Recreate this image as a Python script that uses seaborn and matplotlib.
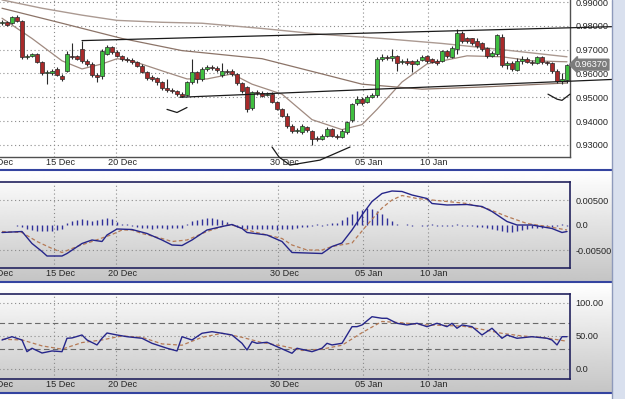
import numpy as np
import matplotlib
matplotlib.use("Agg")
import matplotlib.pyplot as plt
import matplotlib.transforms as mtransforms
from matplotlib import font_manager
from matplotlib.patches import Rectangle
from matplotlib.lines import Line2D
import seaborn as sns

# H4 candles (index 0 = first candle at the left edge)
opens = [
    0.9811, 0.9815, 0.9811, 0.9836, 0.9819, 0.9670, 0.9674, 0.9683, 0.9649, 0.9602,
    0.9602, 0.9619, 0.9589, 0.9611, 0.9674, 0.9674, 0.9704, 0.9653, 0.9640, 0.9594,
    0.9589, 0.9683, 0.9713, 0.9692, 0.9674, 0.9662, 0.9657, 0.9649, 0.9632, 0.9606,
    0.9585, 0.9581, 0.9564, 0.9538, 0.9530, 0.9526, 0.9513, 0.9509, 0.9564, 0.9606,
    0.9577, 0.9619, 0.9628, 0.9623, 0.9594, 0.9611, 0.9611, 0.9598, 0.9560, 0.9543,
    0.9453, 0.9521, 0.9517, 0.9509, 0.9513, 0.9479, 0.9449, 0.9423, 0.9381, 0.9360,
    0.9355, 0.9377, 0.9360, 0.9330, 0.9326, 0.9338, 0.9368, 0.9338, 0.9334, 0.9355,
    0.9406, 0.9475, 0.9492, 0.9479, 0.9500, 0.9509, 0.9662, 0.9670, 0.9666, 0.9674,
    0.9649, 0.9653, 0.9653, 0.9640, 0.9657, 0.9674, 0.9662, 0.9653, 0.9653, 0.9696,
    0.9670, 0.9704, 0.9768, 0.9747, 0.9747, 0.9738, 0.9726, 0.9709, 0.9674, 0.9683,
    0.9755, 0.9636, 0.9645, 0.9615, 0.9653, 0.9662, 0.9649, 0.9645, 0.9670, 0.9649,
    0.9645, 0.9611, 0.9568, 0.9572]
highs = [
    0.9823, 0.9819, 0.9840, 0.9845, 0.9823, 0.9683, 0.9687, 0.9687, 0.9653, 0.9615,
    0.9619, 0.9628, 0.9598, 0.9696, 0.9730, 0.9679, 0.9738, 0.9662, 0.9649, 0.9602,
    0.9704, 0.9721, 0.9717, 0.9700, 0.9679, 0.9670, 0.9666, 0.9653, 0.9640, 0.9611,
    0.9594, 0.9585, 0.9568, 0.9577, 0.9538, 0.9530, 0.9521, 0.9568, 0.9662, 0.9611,
    0.9628, 0.9636, 0.9636, 0.9632, 0.9645, 0.9619, 0.9619, 0.9602, 0.9564, 0.9547,
    0.9526, 0.9530, 0.9526, 0.9521, 0.9521, 0.9483, 0.9453, 0.9432, 0.9389, 0.9372,
    0.9389, 0.9381, 0.9364, 0.9338, 0.9347, 0.9377, 0.9372, 0.9347, 0.9368, 0.9402,
    0.9475, 0.9504, 0.9500, 0.9509, 0.9517, 0.9670, 0.9683, 0.9679, 0.9704, 0.9679,
    0.9662, 0.9666, 0.9657, 0.9662, 0.9679, 0.9679, 0.9666, 0.9662, 0.9700, 0.9700,
    0.9717, 0.9785, 0.9777, 0.9755, 0.9751, 0.9747, 0.9734, 0.9713, 0.9696, 0.9764,
    0.9764, 0.9653, 0.9653, 0.9666, 0.9674, 0.9670, 0.9657, 0.9674, 0.9674, 0.9653,
    0.9649, 0.9619, 0.9602, 0.9640]
lows = [
    0.9802, 0.9798, 0.9806, 0.9815, 0.9662, 0.9662, 0.9670, 0.9645, 0.9594, 0.9555,
    0.9594, 0.9589, 0.9568, 0.9606, 0.9662, 0.9657, 0.9645, 0.9632, 0.9585, 0.9564,
    0.9577, 0.9679, 0.9683, 0.9670, 0.9653, 0.9649, 0.9640, 0.9628, 0.9602, 0.9572,
    0.9568, 0.9551, 0.9530, 0.9521, 0.9517, 0.9504, 0.9500, 0.9504, 0.9555, 0.9560,
    0.9568, 0.9611, 0.9615, 0.9606, 0.9585, 0.9598, 0.9589, 0.9551, 0.9517, 0.9440,
    0.9445, 0.9509, 0.9500, 0.9504, 0.9475, 0.9445, 0.9419, 0.9372, 0.9351, 0.9351,
    0.9347, 0.9355, 0.9300, 0.9317, 0.9321, 0.9334, 0.9334, 0.9326, 0.9330, 0.9347,
    0.9398, 0.9466, 0.9466, 0.9475, 0.9496, 0.9500, 0.9653, 0.9657, 0.9653, 0.9611,
    0.9640, 0.9636, 0.9606, 0.9636, 0.9653, 0.9645, 0.9645, 0.9636, 0.9649, 0.9666,
    0.9666, 0.9683, 0.9730, 0.9726, 0.9721, 0.9709, 0.9696, 0.9666, 0.9670, 0.9674,
    0.9628, 0.9619, 0.9611, 0.9611, 0.9640, 0.9645, 0.9636, 0.9640, 0.9640, 0.9636,
    0.9602, 0.9560, 0.9555, 0.9560]
closes = [
    0.9815, 0.9802, 0.9836, 0.9819, 0.9670, 0.9674, 0.9683, 0.9649, 0.9602, 0.9606,
    0.9611, 0.9594, 0.9577, 0.9683, 0.9670, 0.9662, 0.9653, 0.9640, 0.9594, 0.9585,
    0.9696, 0.9713, 0.9692, 0.9674, 0.9662, 0.9657, 0.9649, 0.9632, 0.9606, 0.9581,
    0.9577, 0.9564, 0.9538, 0.9530, 0.9526, 0.9513, 0.9504, 0.9564, 0.9606, 0.9577,
    0.9619, 0.9628, 0.9623, 0.9615, 0.9611, 0.9606, 0.9598, 0.9560, 0.9526, 0.9449,
    0.9521, 0.9517, 0.9504, 0.9513, 0.9479, 0.9449, 0.9423, 0.9381, 0.9360, 0.9364,
    0.9381, 0.9364, 0.9326, 0.9326, 0.9338, 0.9368, 0.9338, 0.9334, 0.9360, 0.9398,
    0.9470, 0.9492, 0.9475, 0.9500, 0.9509, 0.9662, 0.9670, 0.9666, 0.9674, 0.9645,
    0.9653, 0.9645, 0.9640, 0.9653, 0.9670, 0.9653, 0.9649, 0.9645, 0.9696, 0.9674,
    0.9709, 0.9772, 0.9738, 0.9738, 0.9726, 0.9717, 0.9704, 0.9674, 0.9687, 0.9760,
    0.9636, 0.9645, 0.9619, 0.9653, 0.9662, 0.9649, 0.9645, 0.9670, 0.9649, 0.9645,
    0.9611, 0.9568, 0.9577, 0.9637]

# moving averages, read at a few candle positions
ma_long_x = [0, 8, 16, 23, 32, 40, 52, 64, 76, 88, 100, 113]
ma_long_y = [0.9909, 0.9874, 0.9845, 0.9823, 0.9815, 0.9811, 0.9789, 0.9764, 0.9747, 0.9726, 0.9700, 0.9670]
ma_mid_x = [0, 12, 24, 36, 52, 64, 72, 84, 96, 113]
ma_mid_y = [0.9874, 0.9811, 0.9747, 0.9696, 0.9662, 0.9598, 0.9555, 0.9534, 0.9543, 0.9560]
ma_short_x = [0, 6, 12, 16, 20, 23, 26, 32, 37, 41, 46, 50, 56, 62, 68, 72, 75, 80, 85, 93, 100, 106, 113]
ma_short_y = [0.9832, 0.9747, 0.9653, 0.9619, 0.9640, 0.9662, 0.9653, 0.9611, 0.9577, 0.9577, 0.9598, 0.9555,
              0.9513, 0.9406, 0.9364, 0.9385, 0.9449, 0.9564, 0.9640, 0.9674, 0.9670, 0.9653, 0.9649]

# hand drawn trend lines and arcs
trend_a_x = [16, 124.6]
trend_a_y = [0.9738, 0.9798]
trend_b_x = [35.6, 124.6]
trend_b_y = [0.9500, 0.9577]
arc1_x = [33, 35, 37]
arc1_y = [0.9449, 0.9436, 0.9457]
arc2_x = [54, 55.4, 57.6, 63.6, 69.6]
arc2_y = [0.9291, 0.9249, 0.9215, 0.9236, 0.9291]
arc3_x = [109.2, 111, 112, 113.6]
arc3_y = [0.9513, 0.9492, 0.9487, 0.9513]
last_price = 0.9637

# MACD
macd_x = [0, 4, 6, 8, 9, 12, 13, 16, 18, 20, 21, 23, 26, 29, 32, 34, 36, 38, 41, 44, 46, 48, 49, 53, 56, 58,
          64, 66, 68, 70, 72, 74, 76, 78, 80, 82, 85, 86, 89, 93, 96, 98, 101, 103, 106, 110, 112, 113]
macd_y = [-0.0015, -0.0013, -0.0037, -0.0053, -0.0062, -0.0062, -0.0057, -0.0037, -0.0030, -0.0033, -0.0020,
          -0.0008, -0.0009, -0.0017, -0.0030, -0.0040, -0.0041, -0.0030, -0.0010, -0.0003, 0.0001, -0.0007,
          -0.0015, -0.0020, -0.0033, -0.0055, -0.0057, -0.0043, -0.0036, -0.0010, 0.0020, 0.0047, 0.0063,
          0.0068, 0.0067, 0.0060, 0.0053, 0.0043, 0.0040, 0.0041, 0.0037, 0.0027, 0.0007, 0.0000, 0.0000,
          -0.0007, -0.0015, -0.0013]
signal_x = [0, 4, 7, 10, 12, 15, 18, 22, 24, 26, 28, 32, 34, 37, 41, 45, 46, 49, 53, 56, 58, 61, 64, 66, 70,
            73, 76, 78, 80, 83, 86, 93, 97, 101, 105, 109, 113]
signal_y = [-0.0013, -0.0015, -0.0033, -0.0047, -0.0055, -0.0043, -0.0033, -0.0019, -0.0010, -0.0010, -0.0017,
            -0.0027, -0.0033, -0.0030, -0.0013, 0.0000, 0.0000, -0.0010, -0.0020, -0.0027, -0.0040, -0.0050,
            -0.0050, -0.0043, -0.0036, 0.0000, 0.0034, 0.0050, 0.0059, 0.0053, 0.0050, 0.0043, 0.0033, 0.0017,
            0.0003, -0.0003, -0.0010]
hist = [
    0.0000, 0.0000, 0.0001, -0.0002, -0.0004,
    -0.0008, -0.0010, -0.0012, -0.0012, -0.0012, -0.0011, -0.0010, -0.0008,
    0.0004, 0.0008, 0.0010, 0.0012, 0.0010, 0.0008, 0.0010,
    0.0013, 0.0015, 0.0012, 0.0006,
    0.0003, 0.0002, -0.0002,
    -0.0004, -0.0006, -0.0006, -0.0007, -0.0006, -0.0006, -0.0007, -0.0006, -0.0006, -0.0005,
    0.0003, 0.0008, 0.0010, 0.0012, 0.0014, 0.0014, 0.0012, 0.0010, 0.0006, 0.0003,
    -0.0004, -0.0006, -0.0008, -0.0007, -0.0008, -0.0008, -0.0007, -0.0008, -0.0009, -0.0008, -0.0008, -0.0007, -0.0005,
    -0.0004, -0.0003, -0.0002, 0.0002, -0.0002, 0.0003, 0.0004, 0.0005,
    0.0010, 0.0016, 0.0022, 0.0028,
    0.0030, 0.0034, 0.0032, 0.0028,
    0.0022, 0.0014, 0.0008, 0.0003,
    0.0001, 0.0002, -0.0002, 0.0001, -0.0002, -0.0002, 0.0002, -0.0002, -0.0001, -0.0002, -0.0002, 0.0002, -0.0002,
    -0.0002, -0.0001, -0.0003, -0.0004, -0.0005,
    -0.0008, -0.0010, -0.0012, -0.0014, -0.0014, -0.0012, -0.0010, -0.0008, -0.0006, -0.0005, -0.0006, -0.0004,
    -0.0003, -0.0002, 0.0002, -0.0002]

# RSI
rsi_x = [0, 2, 4, 5, 6, 8, 10, 12, 13, 14, 16, 17, 19, 20, 21, 23, 25, 28, 30, 33, 35, 36, 38, 40, 42, 44, 46,
         48, 49, 50, 51, 53, 55, 58, 59, 62, 64, 65, 66, 68, 70, 71, 72, 74, 76, 77, 79, 81, 83, 85, 87, 89, 90,
         91, 92, 94, 96, 98, 100, 101, 103, 106, 109, 110, 111, 112, 113]
rsi_y = [43.9, 48.9, 43.9, 26.2, 31.4, 24.2, 27.3, 26.2, 46.5, 47.0, 51.5, 43.9, 36.4, 46.5, 54.5, 51.5, 48.9,
         46.5, 38.9, 31.4, 27.3, 48.9, 43.9, 54.1, 56.5, 54.1, 51.5, 38.9, 28.8, 41.4, 38.9, 40.5, 33.8, 23.8,
         31.4, 26.2, 31.4, 38.9, 36.4, 38.9, 64.1, 64.1, 66.7, 79.2, 76.8, 76.8, 69.2, 66.7, 69.2, 64.1, 69.2,
         64.1, 69.2, 61.7, 66.7, 64.1, 51.5, 61.7, 46.5, 51.5, 46.5, 48.9, 46.5, 43.9, 36.4, 48.9, 48.9]
rsi_sig_x = [0, 4, 8, 12, 16, 20, 24, 28, 32, 36, 40, 44, 48, 52, 56, 60, 64, 68, 72, 76, 80, 84, 88, 92, 96,
             100, 104, 108, 113]
rsi_sig_y = [45, 44, 35, 30, 40, 44, 50, 48, 38, 36, 48, 54, 48, 40, 35, 28, 30, 36, 55, 72, 70, 67, 66, 65, 60,
             54, 50, 48, 42]

date_pos = [-2.0, 10.4, 22.8, 55.2, 72.2, 85.2]
date_labels = ["10 Dec", "15 Dec", "20 Dec", "30 Dec", "05 Jan", "10 Jan"]
price_ticks = [0.93, 0.94, 0.95, 0.96, 0.97, 0.98, 0.99]

sns.set_style("white")
installed = {f.name for f in font_manager.fontManager.ttflist}
narrow = 'Liberation Sans Narrow' if 'Liberation Sans Narrow' in installed else 'Liberation Sans'
plt.rcParams['font.family'] = [narrow, 'DejaVu Sans']
FS = 7.7 if narrow == 'Liberation Sans Narrow' else 6.6
plt.rcParams['font.size'] = FS

W, H = 625, 399
fig = plt.figure(figsize=(W / 100, H / 100), dpi=100)
fig.patch.set_facecolor('white')


def box(x0, y0, x1, y1):
    # pixel box (top-left origin) -> figure fraction rect
    return [x0 / W, 1 - y1 / H, (x1 - x0) / W, (y1 - y0) / H]


# gradient backgrounds of the indicator panes
for y0, y1 in [(171, 281), (283, 393)]:
    bg = fig.add_axes(box(0, y0, 612, y1), zorder=-5)
    bg.imshow(np.linspace(1.0, 0.77, 120)[:, None], aspect='auto', cmap='gray', vmin=0, vmax=1)
    bg.axis('off')

for yy in [170, 282, 393]:
    fig.add_artist(Line2D([0, 612 / W], [1 - yy / H] * 2, color='#3444a0', lw=1.5, transform=fig.transFigure))

XLIM = (-4.4, 113.6)
grid_kw = dict(color='#8a8a8a', lw=0.8, linestyle=(0, (1, 2.5)), zorder=1)
label_shift = mtransforms.ScaledTranslation(-8 / 100, 0, fig.dpi_scale_trans)


def date_axis(ax):
    ax.set_xticks(date_pos)
    ax.set_xticklabels(date_labels)
    ax.tick_params(axis='x', length=0, pad=1.0, labelsize=FS)
    for lab in ax.get_xticklabels():
        lab.set_horizontalalignment('left')
        lab.set_transform(lab.get_transform() + label_shift)
    for p in date_pos:
        ax.axvline(p, **grid_kw)


# ---- price pane ----
ax1 = fig.add_axes(box(-20, -2, 570, 157))
ax1.set_facecolor('none')
idx = np.arange(len(closes))
o = np.array(opens)
c = np.array(closes)
up = c >= o
ax1.vlines(idx, lows, highs, color='#2a2a2a', lw=0.8, zorder=3)
ax1.bar(idx, np.maximum(np.abs(c - o), 0.00015), bottom=np.minimum(o, c), width=0.65,
        color=np.where(up, '#3fbf3f', '#a82a2a'), edgecolor='#2a2a2a', linewidth=0.5, zorder=4)

sns.lineplot(x=ma_long_x, y=ma_long_y, ax=ax1, color='#ab9a92', linewidth=1.0, zorder=2)
sns.lineplot(x=ma_mid_x, y=ma_mid_y, ax=ax1, color='#8c7468', linewidth=0.9, zorder=2)
sns.lineplot(x=ma_short_x, y=ma_short_y, ax=ax1, color='#a08a80', linewidth=0.9, zorder=2)

for xs, ys in [(trend_a_x, trend_a_y), (trend_b_x, trend_b_y), (arc1_x, arc1_y), (arc2_x, arc2_y),
               (arc3_x, arc3_y)]:
    ax1.plot(xs, ys, color='#1a1a1a', lw=0.9, clip_on=False, zorder=5)

ax1.set_xlim(*XLIM)
ax1.set_ylim(0.9249, 0.9917)
ax1.set_yticks(price_ticks)
ax1.set_yticklabels([f"{t:.5f}" for t in price_ticks])
ax1.yaxis.tick_right()
ax1.tick_params(axis='y', length=0, pad=4, labelsize=FS)
for t in price_ticks:
    ax1.axhline(t, **grid_kw)
date_axis(ax1)
for s in ['top', 'left']:
    ax1.spines[s].set_visible(False)
for s in ['right', 'bottom']:
    ax1.spines[s].set_color('#505050')
    ax1.spines[s].set_linewidth(1.0)
ax1.text(1.0, last_price, "0.96370",
         transform=mtransforms.blended_transform_factory(ax1.transAxes, ax1.transData)
         + mtransforms.ScaledTranslation(5 / 100, 0, fig.dpi_scale_trans),
         ha='left', va='center', color='white', fontsize=FS,
         bbox=dict(boxstyle='larrow,pad=0.1', fc='#7c7c7c', ec='#7c7c7c'), zorder=6)

# ---- MACD pane ----
ax2 = fig.add_axes(box(-20, 182, 570, 268))
ax2.set_facecolor('none')
ax2.vlines(idx, 0, hist, color='#30309a', lw=1.0, zorder=2)
sns.lineplot(x=signal_x, y=signal_y, ax=ax2, color='#b57a55', linewidth=0.9, linestyle=(0, (3, 2)), zorder=3)
sns.lineplot(x=macd_x, y=macd_y, ax=ax2, color='#26268a', linewidth=1.0, zorder=4)
ax2.set_xlim(*XLIM)
ax2.set_ylim(-0.0086, 0.0086)
ax2.set_yticks([0.005, 0.0, -0.005])
ax2.set_yticklabels(["0.00500", "0.0", "-0.00500"])
ax2.yaxis.tick_right()
ax2.tick_params(axis='y', length=0, pad=4, labelsize=FS)
for t in [0.005, -0.005]:
    ax2.axhline(t, **grid_kw)
date_axis(ax2)

# ---- RSI pane ----
ax3 = fig.add_axes(box(-20, 294, 570, 379))
ax3.set_facecolor('none')
sns.lineplot(x=rsi_sig_x, y=rsi_sig_y, ax=ax3, color='#b57a55', linewidth=0.9, linestyle=(0, (3, 2)), zorder=3)
sns.lineplot(x=rsi_x, y=rsi_y, ax=ax3, color='#26268a', linewidth=1.0, zorder=4)
ax3.set_xlim(*XLIM)
ax3.set_ylim(-15.2, 113.6)
ax3.set_yticks([100, 50, 0])
ax3.set_yticklabels(["100.00", "50.00", "0.0"])
ax3.yaxis.tick_right()
ax3.tick_params(axis='y', length=0, pad=4, labelsize=FS)
for t in [100, 50, 0]:
    ax3.axhline(t, **grid_kw)
for t in [70, 30]:
    ax3.axhline(t, color='#6a6a6a', lw=0.8, linestyle=(0, (5, 3)), zorder=1)
date_axis(ax3)

for ax in (ax2, ax3):
    for s in ax.spines.values():
        s.set_color('#23235e')
        s.set_linewidth(1.2)
for ax in (ax1, ax2, ax3):
    ax.set_xlabel('')
    ax.set_ylabel('')

# right hand strip
fig.add_artist(Rectangle((612 / W, 0), 13 / W, 1, transform=fig.transFigure, fc='#d9e0ee', ec='none', zorder=10))
fig.add_artist(Line2D([612 / W] * 2, [0, 1], color='#8e9abb', lw=1.0, transform=fig.transFigure, zorder=11))

fig.savefig("out.png", dpi=100)
